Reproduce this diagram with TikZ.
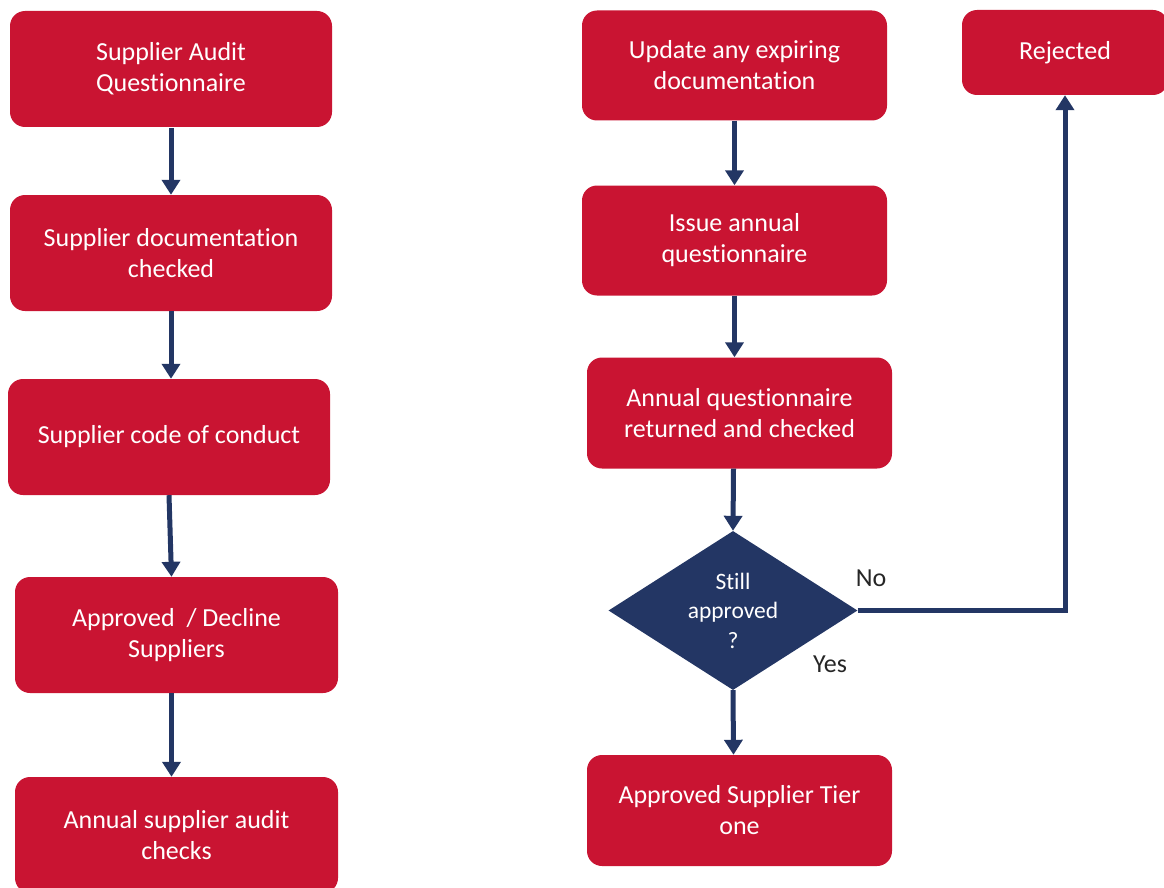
\documentclass[tikz,border=0pt]{standalone}
\usepackage{fontspec}
\setmainfont[Ligatures=NoCommon]{Carlito}
\usepackage{xcolor}
\usetikzlibrary{arrows.meta,shapes.geometric}
\definecolor{auditred}{HTML}{C91432}
\definecolor{auditnavy}{HTML}{233664}
\tikzset{
  stepbox/.style={rectangle, rounded corners=15pt, fill=auditred, text=white,
    align=center, inner sep=0pt, font=\fontsize{26}{31}\selectfont},
  decision/.style={diamond, aspect=1.57, fill=auditnavy, text=white,
    align=center, inner sep=0pt, minimum width=249pt, minimum height=159pt,
    font=\fontsize{23.5}{29.5}\selectfont},
  answer/.style={font=\fontsize{26}{30}\selectfont, text=black!85},
  flow/.style={draw=auditnavy, line width=5pt,
    -{Triangle[width=18pt,length=15pt]}}
}
\begin{document}
\begin{tikzpicture}[x=1pt,y=-1pt]
\clip (0,0) rectangle (1164,888);
% left column
\node[stepbox, minimum width=322pt, minimum height=116pt] at (171, 69) (q1) {Supplier Audit\\Questionnaire};
\node[stepbox, minimum width=322pt, minimum height=116pt] at (171, 253) (q2) {Supplier documentation\\checked};
\node[stepbox, minimum width=322pt, minimum height=116pt] at (169, 437) (q3) {Supplier code of conduct};
\node[stepbox, minimum width=323pt, minimum height=116pt] at (176.5, 635) (q4) {Approved\ \ / Decline\\Suppliers};
\node[stepbox, minimum width=323pt, minimum height=116pt] at (176.5, 835) (q5) {Annual supplier audit\\checks};
% right column
\node[stepbox, minimum width=305pt, minimum height=110pt] at (734.5, 65.5) (r1) {Update any expiring\\documentation};
\node[stepbox, minimum width=305pt, minimum height=110pt] at (734.5, 240.5) (r2) {Issue annual\\questionnaire};
\node[stepbox, minimum width=305pt, minimum height=111pt] at (739.5, 413) (r3) {Annual questionnaire\\returned and checked};
\node[decision] at (733, 610.5) (still) {Still\\approved\\?};
\node[stepbox, minimum width=305pt, minimum height=111pt] at (739.5, 810.5) (tier) {Approved Supplier Tier\\one};
\node[stepbox, minimum width=206pt, minimum height=85pt] at (1065, 52.5) (rej) {Rejected};
\node[answer] at (871, 578) (no) {No};
\node[answer] at (830, 664) (yes) {Yes};
% connectors
\draw[flow] ([yshift=-1pt]q1.south) -- (q2.north);
\draw[flow] (q2.south) -- ([xshift=2pt]q3.north);
\draw[flow] (q3.south) -- ([xshift=-5pt]q4.north);
\draw[flow] ([xshift=-5pt]q4.south) -- ([xshift=-5pt]q5.north);
\draw[flow] (r1.south) -- (r2.north);
\draw[flow] (r2.south) -- ([xshift=-5pt]r3.north);
\draw[flow] ([xshift=-6pt]r3.south) -- (still.north);
\draw[flow] (still.south) -- ([xshift=-6pt]tier.north);
\draw[flow] (still.east) -| (rej.south);
\end{tikzpicture}
\end{document}
